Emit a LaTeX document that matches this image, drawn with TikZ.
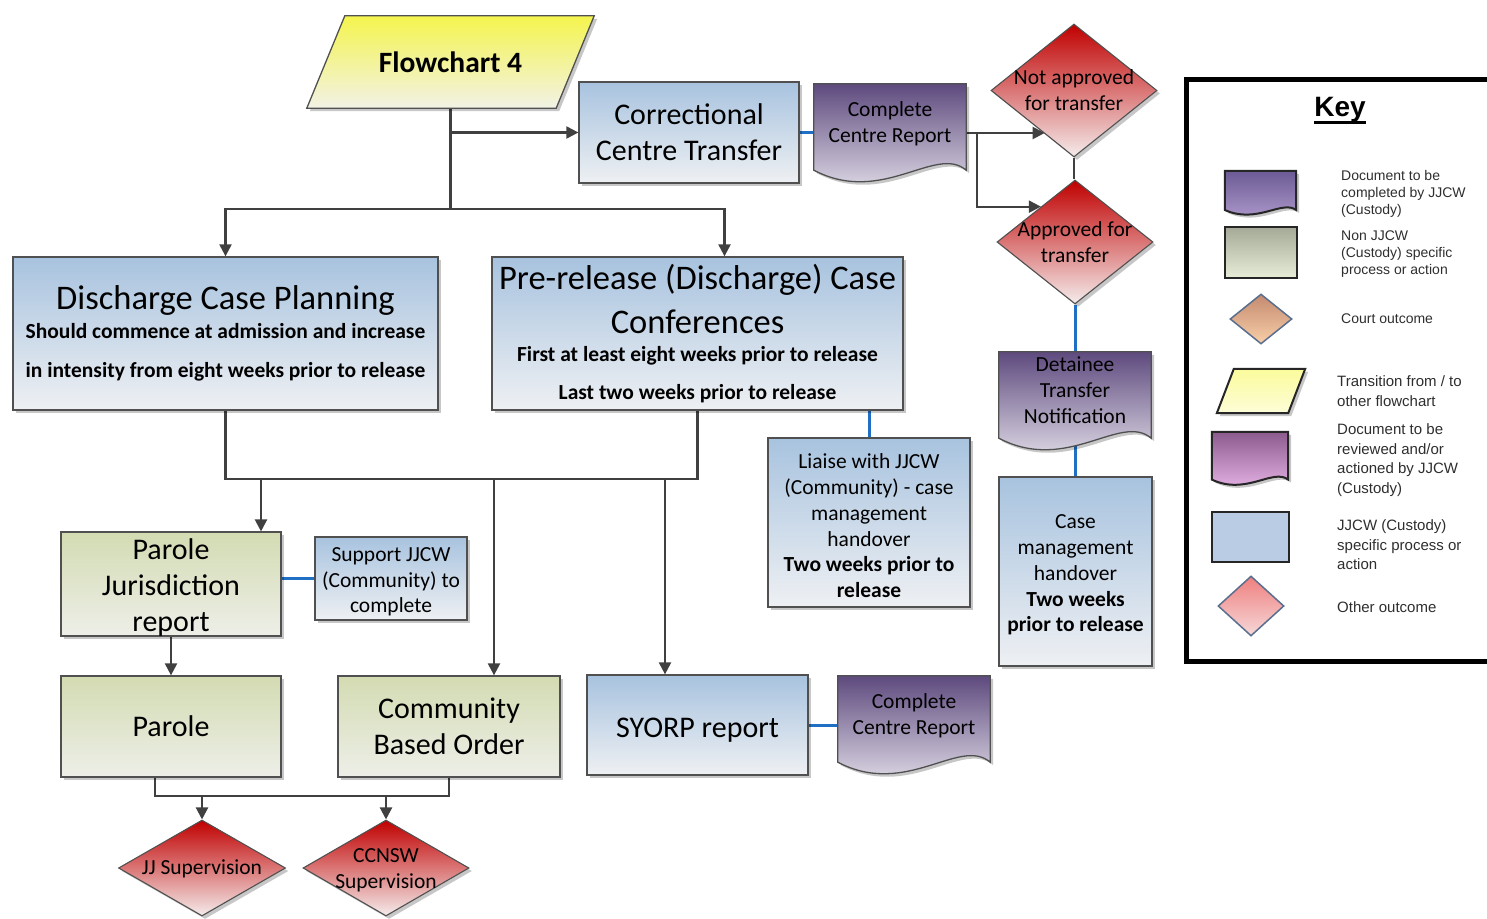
\documentclass[tikz,border=0pt]{standalone}
\usepackage{fontspec}
\setmainfont{Carlito}
\newfontfamily\keyfont{Liberation Sans}
\usetikzlibrary{shapes.geometric,arrows.meta,calc,shadows}
\pgfdeclarelayer{links}
\pgfdeclarelayer{outlines}
\pgfsetlayers{links,outlines,main}

\definecolor{edge}{HTML}{505050}
\definecolor{wire}{HTML}{404040}
\definecolor{bluewire}{HTML}{1F6FC4}
\definecolor{blueTop}{HTML}{A8C3DF}
\definecolor{blueBot}{HTML}{EEF0F3}
\definecolor{greenTop}{HTML}{D3DBB2}
\definecolor{greenBot}{HTML}{EDEFE8}
\definecolor{purpleTop}{HTML}{5E4A7E}
\definecolor{purpleBot}{HTML}{F1EFF5}
\definecolor{redTop}{HTML}{C00000}
\definecolor{redBot}{HTML}{F5ECEC}
\definecolor{yellowTop}{HTML}{F4F44E}
\definecolor{yellowBot}{HTML}{F2F2E6}
\definecolor{keytext}{HTML}{2E2E2E}
\definecolor{keyPurTop}{HTML}{6B5A94}
\definecolor{keyPurBot}{HTML}{B49FD0}
\definecolor{keyGrnTop}{HTML}{A4AA97}
\definecolor{keyGrnBot}{HTML}{E7EDD7}
\definecolor{keyTanTop}{HTML}{C48A70}
\definecolor{keyTanBot}{HTML}{F8CFA8}
\definecolor{keyYelTop}{HTML}{FBFB9C}
\definecolor{keyYelBot}{HTML}{FDFDD8}
\definecolor{keyPnkTop}{HTML}{8C5B8D}
\definecolor{keyPnkBot}{HTML}{EFBCF0}
\definecolor{keyBlue}{HTML}{B9CCE4}
\definecolor{keyRedTop}{HTML}{EF7F7F}
\definecolor{keyRedBot}{HTML}{F6D8D8}
\definecolor{keyEdge}{HTML}{5A6F8E}

% invisible strut that lowers a node's text block a little
\newcommand\dropby[1]{\rule{0pt}{#1}}

\tikzset{
  softshadow/.style={drop shadow={shadow xshift=3pt, shadow yshift=-3pt, opacity=0.22, fill=black}},
  procbox/.style={draw=edge, line width=1.3pt, inner sep=0pt, align=center, softshadow},
  bluebox/.style={procbox, top color=blueTop, bottom color=blueBot},
  greenbox/.style={procbox, top color=greenTop, bottom color=greenBot},
  outcome/.style={shape=diamond, draw=edge, line width=1.1pt, inner sep=0pt,
    top color=redTop, bottom color=redBot, softshadow},
  outtext/.style={align=center, inner sep=0pt, font=\fontsize{21.5}{26}\selectfont},
  docnode/.style={inner sep=0pt, align=center, font=\fontsize{21.5}{26}\selectfont},
  docline/.style={draw=edge, line width=1.3pt, softshadow},
  sz/.style 2 args={minimum width=#1, minimum height=#2},
  bigtext/.style={font=\fontsize{30}{36}\selectfont},
  smalltext/.style={font=\fontsize{21.5}{25.8}\selectfont},
  link/.style={draw=wire, line width=2.2pt},
  arrowlink/.style={link, -{Triangle[length=12pt,width=12pt]}},
  bluelink/.style={draw=bluewire, line width=3pt},
  keyedge/.style={draw=black!85, line width=2pt},
  keylabel/.style={anchor=west, align=left, inner sep=0pt, text=keytext,
    font=\keyfont\fontsize{14}{17}\selectfont},
  keylabelb/.style={keylabel, font=\keyfont\fontsize{15}{19.5}\selectfont},
}

% document outline with a wavy lower edge, drawn round a named node
\newcommand\docpath[5]{%
  \path[docline,#5,top color=#2,bottom color=#3]
    (#1.north west) -- (#1.north east) -- ($(#1.south east)+(0,{12*#4})$)
    .. controls ($(#1.south west)!0.8!(#1.south east)+(0,{-14*#4})$)
            and ($(#1.south west)!0.45!(#1.south east)+(0,{48*#4})$)
    .. ($(#1.south west)+(0,{12*#4})$) -- cycle;}
% slanted parallelogram round a named node
\newcommand\parapath[5]{%
  \path[docline,#5,top color=#3,bottom color=#4]
    ($(#1.north west)+(#2,0)$) -- (#1.north east) -- ($(#1.south east)-(#2,0)$)
    -- (#1.south west) -- cycle;}

\begin{document}
\begin{tikzpicture}[x=1pt,y=-1pt]
\useasboundingbox (0,0) rectangle (1487,918);
\clip (0,0) rectangle (1487,918);

% ---------- flowchart nodes ----------
\node[inner sep=0pt, sz={287}{92}, font=\bfseries\fontsize{29.5}{36}\selectfont] (flow) at (450.5,62) {Flowchart 4};
\node[bluebox, bigtext, sz={220}{101}] (cct) at (689,132.5) {Correctional\\Centre Transfer};
\node[docnode, sz={152}{74}] (doc1) at (890,121) {\dropby{19.5pt}Complete\\Centre Report};
\node[outcome, sz={166}{133}, label={[outtext]center:Not approved\\for transfer}] (nap) at (1074,90.5) {};
\node[outcome, sz={156}{124}, label={[outtext]center:Approved for\\transfer}] (apr) at (1075,242) {};
\node[docnode, sz={152}{74}] (dtn) at (1075,389) {\dropby{17.5pt}Detainee\\Transfer\\Notification};
\node[bluebox, smalltext, sz={153}{189}] (cmh) at (1075.5,571.5)
  {\dropby{21pt}Case\\management\\handover\\\textbf{Two weeks}\\\textbf{prior to release}};

\node[bluebox, sz={425}{153}, font=\bfseries\fontsize{21.5}{29}\selectfont] (dcp) at (225.5,333.5)
  {{\mdseries\fontsize{34.5}{34}\selectfont Discharge Case Planning}\\
   Should commence at admission and increase\\[10pt]
   in intensity from eight weeks prior to release};
\node[bluebox, sz={411}{153}, font=\bfseries\fontsize{21.5}{28.5}\selectfont] (pre) at (697.5,333.5)
  {{\mdseries\fontsize{34.5}{34}\selectfont Pre-release (Discharge) Case}\\[13pt]
   {\mdseries\fontsize{34.5}{34}\selectfont Conferences}\\
   First at least eight weeks prior to release\\[9pt]
   Last two weeks prior to release};
\node[bluebox, smalltext, sz={202}{169}] (liaise) at (869,522.5)
  {\dropby{21.5pt}Liaise with JJCW\\(Community) - case\\management\\handover\\\textbf{Two weeks prior to}\\\textbf{release}};

\node[greenbox, bigtext, sz={220}{102}] (pjr) at (171,584) {\dropby{27pt}Parole\\Jurisdiction\\report};
\node[bluebox, smalltext, sz={152}{83}] (sup) at (391,578.5) {\dropby{20.5pt}Support JJCW\\(Community) to\\complete};
\node[greenbox, bigtext, sz={220}{101}] (par) at (171,726.5) {Parole};
\node[greenbox, bigtext, sz={222}{101}] (cbo) at (449,726.5) {Community\\Based Order};
\node[bluebox, bigtext, sz={221}{100}] (syo) at (697.5,725) {\dropby{29pt}SYORP report};
\node[docnode, sz={152}{74}] (doc2) at (914,713) {\dropby{20pt}Complete\\Centre Report};
\node[outcome, sz={167}{96}, label={[outtext]center:\dropby{17pt}JJ Supervision}] (jj) at (202,868) {};
\node[outcome, sz={166}{96}, label={[outtext]center:\dropby{19pt}CCNSW\\Supervision}] (cc) at (386,868) {};

% ---------- key ----------
\draw[line width=5pt] (1186,79) rectangle (1500,661);
\node[inner sep=0pt, font=\keyfont\bfseries\fontsize{28}{30}\selectfont] (keyt) at (1340,110) {Key};
\draw[line width=3pt] ($(keyt.base west)+(0,6)$) -- ($(keyt.base east)+(0,6)$);

\node[inner sep=0pt, sz={71}{34}] (ks1) at (1260.5,188) {};
\node[keyedge, top color=keyGrnTop, bottom color=keyGrnBot, sz={72}{51}] (ks2) at (1261,252.5) {};
\node[shape=diamond, draw=keyEdge, line width=1.5pt, top color=keyTanTop, bottom color=keyTanBot,
  inner sep=0pt, sz={62}{50}] (ks3) at (1261,319) {};
\node[inner sep=0pt, sz={88}{44}] (ks4) at (1261,391) {};
\node[inner sep=0pt, sz={76}{42}] (ks5) at (1250,453) {};
\node[keyedge, fill=keyBlue, sz={77}{50}] (ks6) at (1250.5,537) {};
\node[shape=diamond, draw=keyEdge, line width=1.5pt, top color=keyRedTop, bottom color=keyRedBot,
  inner sep=0pt, sz={66}{60}] (ks7) at (1251,606) {};

\node[keylabel] (kl1) at (1341,194) {Document to be\\completed by JJCW\\(Custody)};
\node[keylabel] (kl2) at (1341,254) {Non JJCW\\(Custody) specific\\process or action};
\node[keylabel] (kl3) at (1341,319) {Court outcome};
\node[keylabelb] (kl4) at (1337,391) {Transition from / to\\other flowchart};
\node[keylabelb] (kl5) at (1337,460) {Document to be\\reviewed and/or\\actioned by JJCW\\(Custody)};
\node[keylabelb] (kl6) at (1337,545) {JJCW (Custody)\\specific process or\\action};
\node[keylabelb] (kl7) at (1337,607) {Other outcome};

% ---------- outlines of documents and parallelograms ----------
\begin{pgfonlayer}{outlines}
  \parapath{flow}{38}{yellowTop}{yellowBot}{}
  \docpath{doc1}{purpleTop}{purpleBot}{1}{}
  \docpath{dtn}{purpleTop}{purpleBot}{1}{}
  \docpath{doc2}{purpleTop}{purpleBot}{1}{}
  \docpath{ks1}{keyPurTop}{keyPurBot}{0.4}{keyedge, drop shadow={opacity=0}}
  \parapath{ks4}{17}{keyYelTop}{keyYelBot}{keyedge, drop shadow={opacity=0}}
  \docpath{ks5}{keyPnkTop}{keyPnkBot}{0.45}{keyedge, drop shadow={opacity=0}}
\end{pgfonlayer}

% ---------- connectors ----------
\begin{pgfonlayer}{links}
  \coordinate (fork) at (450.5,209);
  \draw[link] (flow.south) -- (fork);
  \draw[arrowlink] (flow.south |- cct.west) -- (cct.west);
  \draw[arrowlink] (fork) -| (dcp.north);
  \draw[arrowlink] (fork) -| ($(pre.north)+(27,0)$);
  \draw[bluelink] (cct.east) -- (cct.east -| doc1.west);
  \coordinate (d1out) at ($(doc1.east)+(0,12)$);
  \draw[arrowlink] (d1out) -- (d1out -| nap.236);
  \draw[arrowlink] ($(d1out)+(11,0)$) |- (apr.134);
  \draw[draw=wire, line width=1.2pt] (nap.south) -- (nap.south |- apr.north);
  \draw[bluelink] (apr.south) -- (dtn.north);
  \draw[bluelink] (dtn.south) -- (dtn.south |- cmh.north);

  \coordinate (bus) at (0,479);
  \draw[link] (dcp.south) -- (dcp.south |- bus) -- (pre.south |- bus) -- (pre.south);
  \draw[arrowlink] ($(pjr.north |- bus)+(90,0)$) -- ($(pjr.north)+(90,0)$);
  \draw[arrowlink] ($(cbo.north |- bus)+(45,0)$) -- ($(cbo.north)+(45,0)$);
  \draw[arrowlink] ($(syo.north |- bus)+(-32.5,0)$) -- ($(syo.north)+(-32.5,0)$);
  \draw[bluelink] (liaise.north |- pre.south) -- (liaise.north);
  \draw[bluelink] (pjr.east |- sup.west) -- (sup.west);
  \draw[arrowlink] (pjr.south) -- (par.north);
  \draw[bluelink] (syo.east) -- (syo.east -| doc2.west);

  \coordinate (bus2) at (0,796);
  \draw[link] ($(par.south)+(-16,0)$) |- (cbo.south |- bus2) -- (cbo.south);
  \draw[arrowlink] (jj.north |- bus2) -- (jj.north);
  \draw[arrowlink] (cc.north |- bus2) -- (cc.north);
\end{pgfonlayer}
\end{tikzpicture}
\end{document}
